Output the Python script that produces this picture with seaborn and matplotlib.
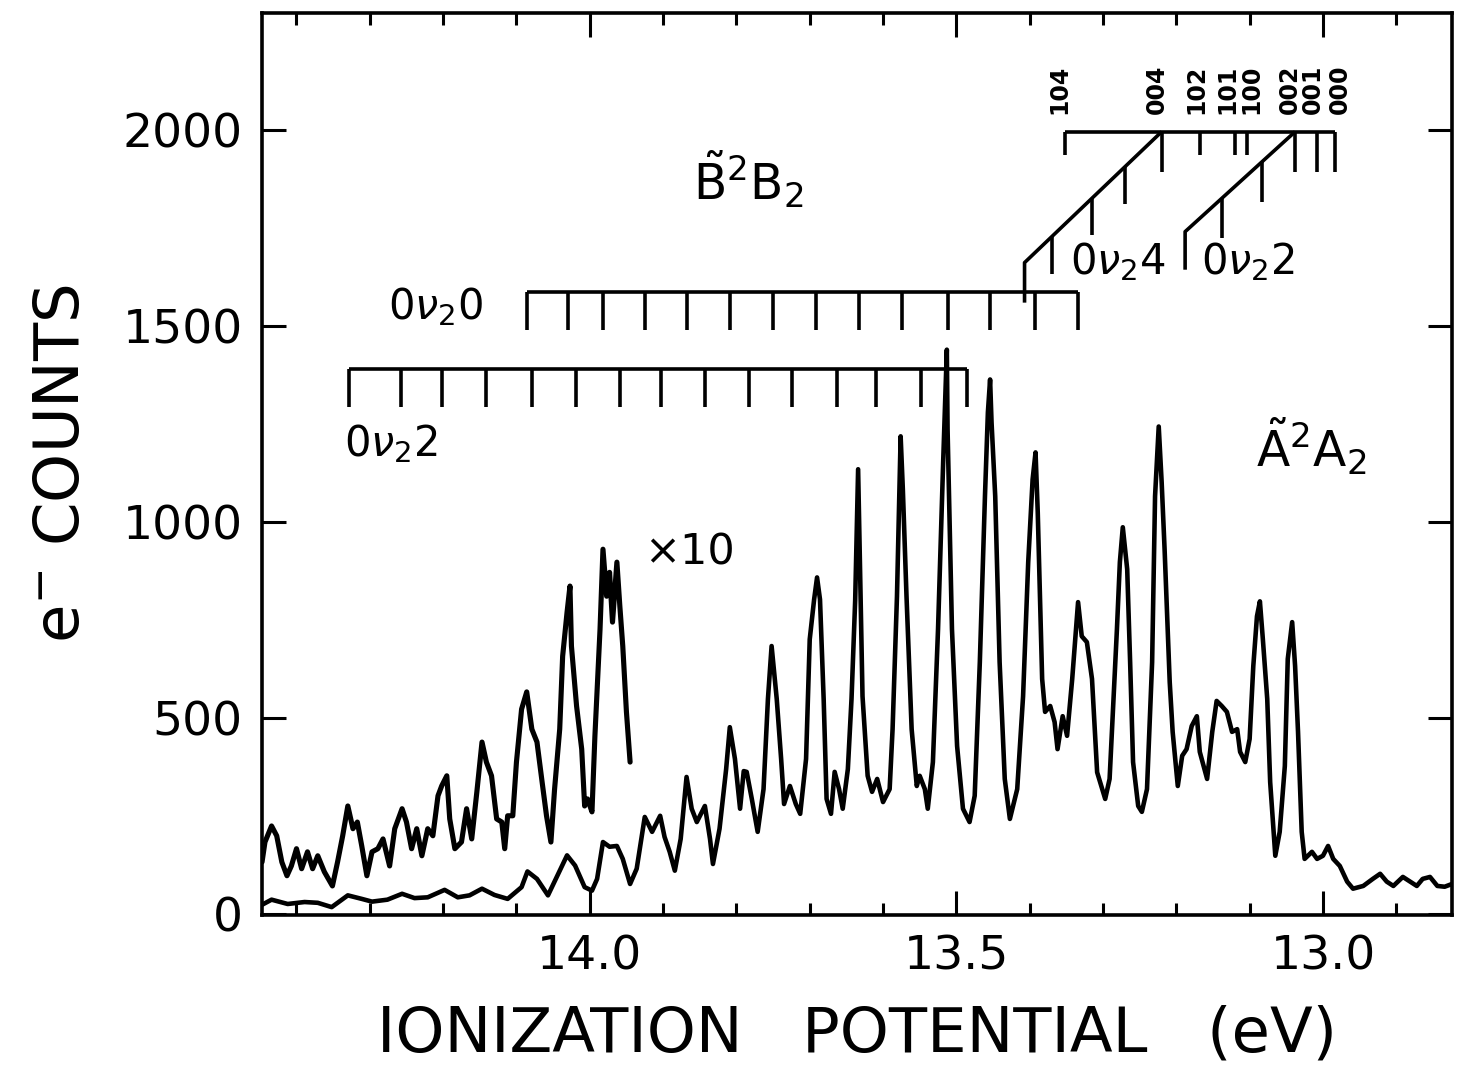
import numpy as np
import pandas as pd
import matplotlib
matplotlib.use("Agg")
import matplotlib.pyplot as plt
from matplotlib.ticker import MultipleLocator
import seaborn as sns

# photoelectron spectrum (eV, counts)
energy = [14.447, 14.434, 14.412, 14.389, 14.371, 14.352, 14.330, 14.311, 14.297, 14.276,
          14.256, 14.239, 14.221, 14.198, 14.180, 14.164, 14.147, 14.130, 14.112, 14.093,
          14.085, 14.072, 14.057, 14.044, 14.031, 14.020, 14.007, 13.997, 13.990, 13.982,
          13.973, 13.963, 13.955, 13.945, 13.936, 13.925, 13.915, 13.904, 13.898, 13.891,
          13.884, 13.876, 13.868, 13.861, 13.854, 13.843, 13.836, 13.832, 13.823, 13.814,
          13.809, 13.802, 13.795, 13.790, 13.786, 13.779, 13.771, 13.763, 13.757, 13.752,
          13.745, 13.739, 13.735, 13.727, 13.719, 13.713, 13.705, 13.700, 13.694, 13.690,
          13.686, 13.681, 13.677, 13.671, 13.666, 13.660, 13.655, 13.648, 13.643, 13.638,
          13.634, 13.628, 13.621, 13.615, 13.608, 13.600, 13.591, 13.587, 13.581, 13.576,
          13.573, 13.568, 13.561, 13.554, 13.550, 13.543, 13.539, 13.532, 13.525, 13.518,
          13.513, 13.512, 13.506, 13.499, 13.491, 13.482, 13.475, 13.468, 13.461, 13.457,
          13.454, 13.452, 13.447, 13.441, 13.434, 13.427, 13.417, 13.409, 13.402, 13.396,
          13.392, 13.389, 13.383, 13.379, 13.372, 13.366, 13.362, 13.355, 13.349, 13.342,
          13.336, 13.334, 13.329, 13.322, 13.315, 13.308, 13.297, 13.291, 13.281, 13.277,
          13.273, 13.267, 13.263, 13.259, 13.252, 13.247, 13.240, 13.233, 13.229, 13.224,
          13.220, 13.216, 13.209, 13.205, 13.198, 13.192, 13.186, 13.179, 13.172, 13.168,
          13.158, 13.151, 13.145, 13.138, 13.131, 13.124, 13.117, 13.113, 13.106, 13.100,
          13.095, 13.090, 13.086, 13.082, 13.076, 13.072, 13.065, 13.059, 13.052, 13.048,
          13.042, 13.038, 13.034, 13.029, 13.025, 13.015, 13.008, 13.000, 12.993, 12.986,
          12.977, 12.967, 12.959, 12.945, 12.932, 12.922, 12.913, 12.904, 12.891, 12.881,
          12.872, 12.864, 12.854, 12.844, 12.834, 12.824]
counts = [23, 36, 25, 30, 28, 17, 47, 38, 31, 36,
          51, 40, 42, 61, 42, 47, 64, 48, 38, 68,
          108, 89, 47, 98, 149, 123, 68, 59, 89, 183,
          171, 173, 140, 76, 115, 247, 209, 250, 196, 158,
          110, 191, 349, 268, 234, 275, 191, 127, 217, 369,
          476, 395, 268, 364, 362, 293, 209, 318, 548, 683,
          548, 395, 280, 326, 280, 255, 395, 700, 802, 858,
          802, 548, 293, 255, 362, 318, 268, 369, 548, 800,
          1134, 555, 352, 311, 344, 285, 318, 471, 810, 1218,
          1083, 810, 471, 326, 352, 318, 268, 387, 726, 1152,
          1439, 1236, 726, 428, 268, 234, 301, 642, 1065, 1279,
          1363, 1253, 1065, 642, 344, 242, 318, 555, 897, 1108,
          1177, 1024, 599, 515, 530, 489, 420, 504, 454, 599,
          744, 795, 708, 693, 599, 361, 293, 344, 726, 897,
          986, 879, 642, 387, 275, 260, 318, 642, 1065, 1243,
          1101, 930, 591, 464, 326, 403, 420, 479, 504, 413,
          344, 464, 543, 530, 515, 464, 471, 413, 387, 446,
          632, 759, 797, 701, 548, 336, 148, 209, 377, 650,
          744, 632, 464, 209, 140, 158, 140, 148, 173, 140,
          122, 82, 64, 71, 89, 102, 82, 71, 94, 82,
          71, 89, 94, 71, 69, 76]

# high-energy part scaled x10
energy_x10 = [14.447, 14.443, 14.434, 14.427, 14.420, 14.413, 14.407, 14.400, 14.393, 14.385,
              14.378, 14.371, 14.362, 14.351, 14.344, 14.337, 14.330, 14.323, 14.317, 14.311,
              14.304, 14.297, 14.289, 14.282, 14.273, 14.266, 14.256, 14.250, 14.243, 14.236,
              14.229, 14.221, 14.214, 14.207, 14.202, 14.195, 14.191, 14.184, 14.175, 14.168,
              14.161, 14.154, 14.147, 14.141, 14.134, 14.127, 14.120, 14.116, 14.112, 14.105,
              14.100, 14.093, 14.086, 14.079, 14.072, 14.065, 14.059, 14.053, 14.048, 14.041,
              14.037, 14.031, 14.027, 14.025, 14.018, 14.011, 14.007, 14.003, 13.997, 13.993,
              13.986, 13.982, 13.977, 13.973, 13.969, 13.963, 13.959, 13.955, 13.950, 13.945]
counts_x10 = [132, 183, 224, 199, 132, 97, 122, 166, 115, 158,
              115, 148, 107, 71, 132, 199, 275, 217, 234, 173,
              97, 158, 166, 191, 122, 217, 268, 234, 166, 217,
              148, 217, 199, 301, 326, 352, 242, 166, 183, 268,
              191, 311, 438, 387, 352, 242, 234, 166, 250, 250,
              387, 522, 566, 471, 438, 336, 250, 183, 318, 471,
              657, 769, 836, 683, 530, 420, 275, 293, 260, 453,
              726, 930, 810, 871, 744, 897, 785, 683, 515, 387]

# vibrational progressions (eV)
prog_0v0 = [14.086, 14.030, 13.982, 13.925, 13.868, 13.809, 13.750, 13.692, 13.633,
            13.574, 13.512, 13.454, 13.393, 13.334]
prog_0v2 = [14.329, 14.258, 14.201, 14.141, 14.079, 14.019, 13.959, 13.903, 13.843,
            13.783, 13.724, 13.663, 13.610, 13.548, 13.486]
prog_0v4_diag = [13.370, 13.315, 13.270]
prog_0v2_diag = [13.138, 13.083]
top_pos = [13.352, 13.220, 13.168, 13.120, 13.104, 13.038, 13.008, 12.984]
top_long = [False, True, False, False, False, True, True, True]
top_labels = ["104", "004", "102", "101", "100", "002", "001", "000"]
top_label_x = [13.359, 13.226, 13.172, 13.131, 13.097, 13.045, 13.014, 12.977]

sns.set_theme(style="ticks")
plt.rcParams["font.family"] = ["DejaVu Sans"]
plt.rcParams["mathtext.fontset"] = "dejavusans"
for key in ["text.color", "axes.labelcolor", "xtick.color", "ytick.color", "axes.edgecolor"]:
    plt.rcParams[key] = "black"

fig = plt.figure(figsize=(14.59, 10.69), dpi=100)
ax = fig.add_axes([0.1796, 0.1441, 0.8156, 0.8438])

lw = 3.3
sns.lineplot(x=energy, y=counts, ax=ax, color="black", lw=lw, sort=False, estimator=None)
sns.lineplot(x=energy_x10, y=counts_x10, ax=ax, color="black", lw=lw + 0.4, sort=False, estimator=None)

k = dict(color="black", lw=2.6, solid_capstyle="butt")

# 0v2 0 ladder
ax.plot([prog_0v0[0], prog_0v0[-1]], [1587, 1587], **k)
for e in prog_0v0:
    ax.plot([e, e], [1587, 1490], **k)
# 0v2 2 ladder
ax.plot([prog_0v2[0], prog_0v2[-1]], [1389, 1389], **k)
for e in prog_0v2:
    ax.plot([e, e], [1389, 1294], **k)

# top bracket
ax.plot([top_pos[0], top_pos[-1]], [1995, 1995], **k)
for e, lg in zip(top_pos, top_long):
    ax.plot([e, e], [1995, 1893 if lg else 1936], **k)
for e, t in zip(top_label_x, top_labels):
    ax.text(e, 2040, t, rotation=90, ha="center", va="bottom", fontsize=17, fontweight="bold")

# diagonal ladders up to the bracket
d4x = [13.407, 13.407, 13.220]
d4y = [1559, 1661, 1995]
ax.plot(d4x, d4y, **k)
for e in prog_0v4_diag:
    yt = np.interp(e, d4x[1:][::-1], d4y[1:][::-1])
    ax.plot([e, e], [yt, yt - 95], **k)
d2x = [13.188, 13.188, 13.038]
d2y = [1643, 1740, 1995]
ax.plot(d2x, d2y, **k)
for e in prog_0v2_diag:
    yt = np.interp(e, d2x[1:][::-1], d2y[1:][::-1])
    ax.plot([e, e], [yt, yt - 102], **k)

fs = 30
ax.text(14.210, 1516, r"0$\nu_2$0", ha="center", va="baseline", fontsize=fs)
ax.text(14.272, 1167, r"0$\nu_2$2", ha="center", va="baseline", fontsize=fs)
ax.text(13.280, 1631, r"0$\nu_2$4", ha="center", va="baseline", fontsize=fs)
ax.text(13.102, 1631, r"0$\nu_2$2", ha="center", va="baseline", fontsize=fs)
ax.text(13.864, 892, "×10", ha="center", va="baseline", fontsize=31)
ax.text(13.784, 1822, r"$\tilde{\mathrm{B}}^2\mathrm{B}_2$", ha="center", va="baseline", fontsize=35)
ax.text(13.016, 1141, r"$\tilde{\mathrm{A}}^2\mathrm{A}_2$", ha="center", va="baseline", fontsize=35)

ax.set_xlim(14.447, 12.824)
ax.set_ylim(-3, 2298)
ax.set_xticks([14.0, 13.5, 13.0])
ax.xaxis.set_minor_locator(MultipleLocator(0.1))
ax.set_yticks([0, 500, 1000, 1500, 2000])
ax.tick_params(which="both", direction="in", top=True, right=True, width=2.2, labelsize=34, pad=14)
ax.tick_params(which="major", length=17)
ax.tick_params(which="minor", length=8.5)
for s in ax.spines.values():
    s.set_linewidth(2.6)

ax.set_xlabel("IONIZATION   POTENTIAL   (eV)", fontsize=45, labelpad=18)
ax.set_ylabel(r"$\mathrm{e}^{-}$ COUNTS", fontsize=45, labelpad=22)

fig.savefig("out.png", dpi=100)
